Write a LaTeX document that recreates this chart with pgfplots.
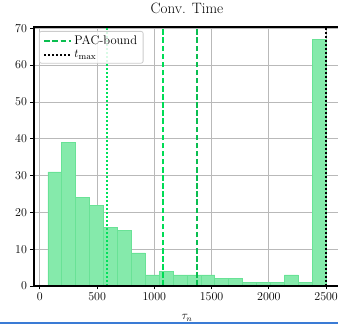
\documentclass[border=0pt]{standalone}
\usepackage{pgfplots}
\pgfplotsset{compat=1.18}
\definecolor{barfill}{RGB}{133,234,171}
\definecolor{baredge}{RGB}{105,226,150}
\definecolor{dotg}{RGB}{0,225,90}
\definecolor{pacA}{RGB}{0,220,85}
\definecolor{pacB}{RGB}{10,190,80}
\definecolor{bluebar}{RGB}{58,123,213}
\begin{document}
\begin{tikzpicture}
\begin{scope}
\clip (0pt,0pt) rectangle (338pt,324pt);
\begin{axis}[
  at={(34pt,38pt)}, anchor=south west,
  scale only axis, width=306pt, height=259pt,
  xmin=-51, xmax=2621, ymin=0, ymax=70.35,
  xtick={0,500,1000,1500,2000,2500},
  ytick={0,10,20,30,40,50,60,70},
  xtick pos=bottom, ytick pos=left,
  tick align=outside, major tick length=3.5pt,
  every tick/.style={black, line width=0.8pt},
  axis line style={black, line width=1.1pt},
  grid=major, grid style={color=gray!55, line width=0.8pt},
  tick label style={font=\fontsize{11.5}{13}\selectfont},
  /pgf/number format/1000 sep={},
  title={Conv. Time},
  title style={font=\fontsize{15}{17}\selectfont, at={(0.5,1)}, anchor=base, yshift=7pt},
  xlabel={$\tau_n$},
  xlabel style={font=\fontsize{12}{14}\selectfont, at={(axis description cs:0.5,0)}, anchor=base, yshift=-34pt},
  legend style={at={(0,1)}, anchor=north west, xshift=5pt, yshift=-4pt,
    draw=gray!40, line width=0.8pt, rounded corners=2pt, fill=white, fill opacity=0.85, text opacity=1,
    font=\fontsize{12.5}{14}\selectfont, inner xsep=4pt, inner ysep=2pt, row sep=0.5pt},
  legend cell align=left,
  legend image code/.code={\draw[#1] (0pt,0pt) -- (23pt,0pt); \path (0pt,0pt) -- (27pt,0pt);},
]
\addplot[ybar interval, fill=barfill, draw=baredge, line width=0.7pt, forget plot]
coordinates {
(70,31) (191.5,39) (313,24) (434.5,22) (556,16) (677.5,15) (799,9) (920.5,3)
(1042,4) (1163.5,3) (1285,3) (1406.5,3) (1528,2) (1649.5,2) (1771,1) (1892.5,1)
(2014,1) (2135.5,3) (2257,1) (2378.5,67) (2500,67)
};
\addplot[draw=dotg, no markers, line width=1.6pt, dash pattern=on 1.5pt off 2.5pt, forget plot] coordinates {(584,0) (584,70.35)};
\addplot[draw=pacA, no markers, line width=1.8pt, dash pattern=on 5.5pt off 2.6pt, forget plot] coordinates {(1078,0) (1078,70.35)};
\addplot[draw=pacB, no markers, line width=2pt, dash pattern=on 5.5pt off 2.6pt, forget plot] coordinates {(1376,0) (1376,70.35)};
\addlegendimage{draw=pacB, no markers, line width=2pt, dash pattern=on 5.5pt off 2.6pt}
\addlegendentry{PAC-bound}
\addplot[draw=black, no markers, line width=1.6pt, dash pattern=on 1.5pt off 2.5pt] coordinates {(2500,0) (2500,70.35)};
\addlegendentry{$t_{\max}$}
\draw[black, line width=1.1pt] (axis cs:-51,0) -- (axis cs:2621,0);
\draw[black, line width=1.1pt] (axis cs:-51,0) -- (axis cs:-51,70.35);
\end{axis}
\fill[bluebar] (0pt,0pt) rectangle (338pt,2pt);
\end{scope}
\pgfresetboundingbox
\useasboundingbox (0pt,0pt) rectangle (338pt,324pt);
\end{tikzpicture}
\end{document}
